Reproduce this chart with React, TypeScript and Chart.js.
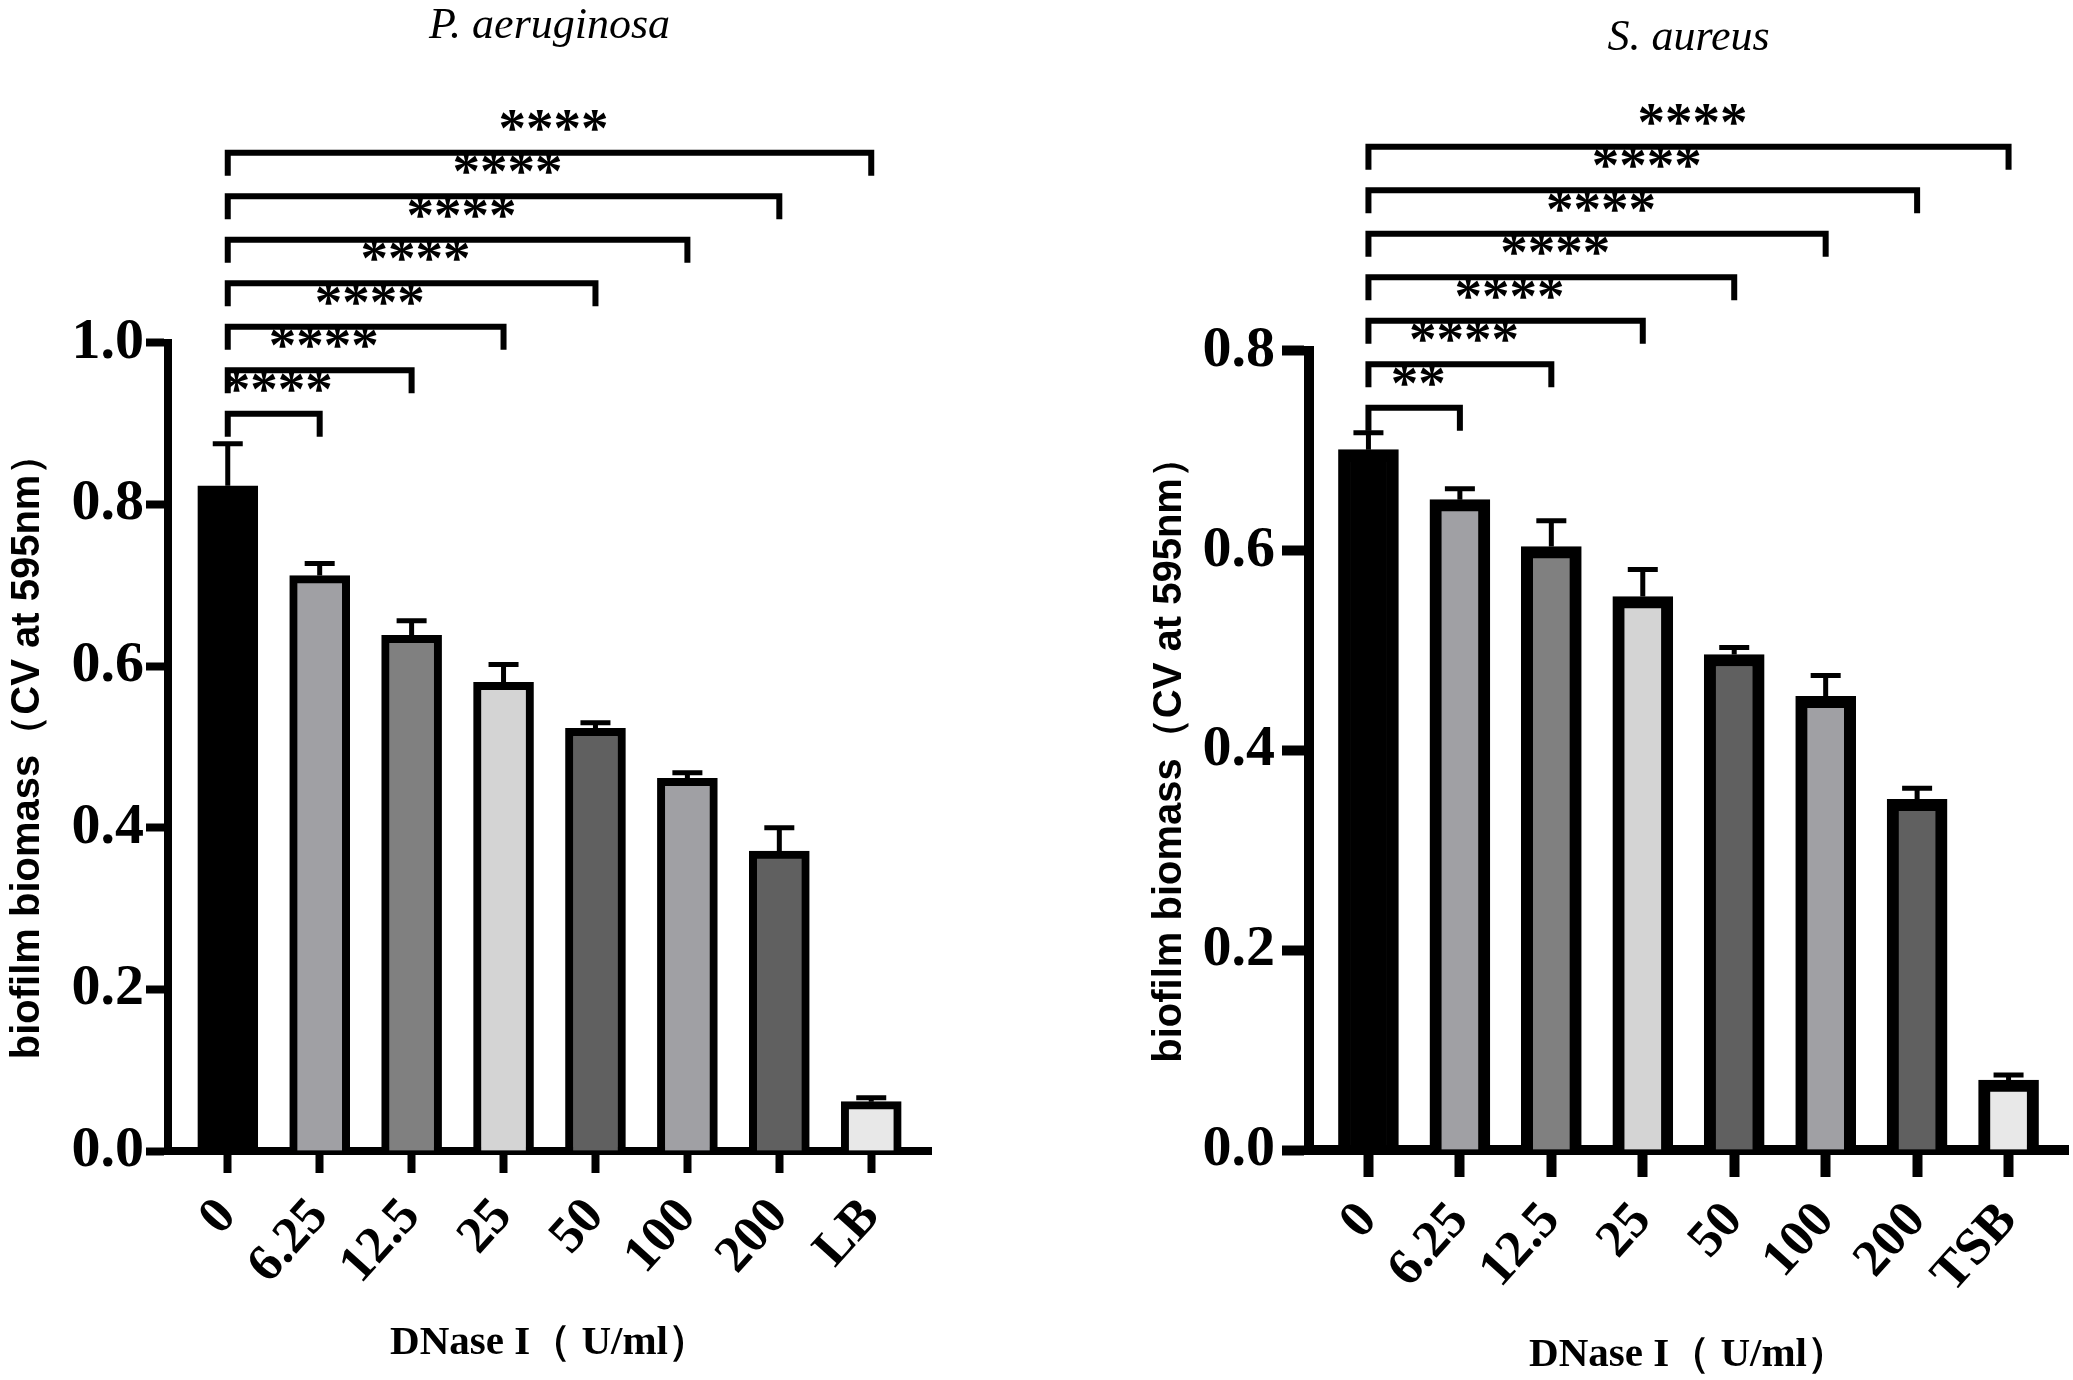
import { useEffect, useRef } from "react";
import { Chart, registerables } from "chart.js";

Chart.register(...registerables);

// P. aeruginosa (DNase I, U/ml)
const paCategories = ["0", "6.25", "12.5", "25", "50", "100", "200", "LB"];
const paMeans = [0.823, 0.712, 0.638, 0.58, 0.523, 0.461, 0.371, 0.061];
const paErrors = [0.052, 0.015, 0.018, 0.022, 0.007, 0.007, 0.029, 0.005];
const paSignificance = ["****", "****", "****", "****", "****", "****", "****"];

// S. aureus (DNase I, U/ml)
const saCategories = ["0", "6.25", "12.5", "25", "50", "100", "200", "TSB"];
const saMeans = [0.701, 0.651, 0.604, 0.554, 0.496, 0.454, 0.351, 0.07];
const saErrors = [0.017, 0.011, 0.026, 0.027, 0.007, 0.021, 0.011, 0.005];
const saSignificance = ["**", "****", "****", "****", "****", "****", "****"];

const barColors = ["#000000", "#a0a0a4", "#808080", "#d4d4d4", "#606060", "#a0a0a4", "#606060", "#e8e8e8"];

const SERIF = "'Liberation Serif', 'Times New Roman', serif";
const SANS = "'Liberation Sans', Arial, sans-serif";

interface PanelLook {
  yMax: number;
  padTop: number;
  titleGap: number;
  padRight: number;
  yWidth: number;
  xHeight: number;
  barBorder: number;
  axisWidth: number;
  tickLength: number;
  yTickPad: number;
  yTitlePad: number;
  xTitlePad: number;
  bracketGap: number;
}

interface PanelProps {
  title: string;
  categories: string[];
  means: number[];
  errors: number[];
  significance: string[];
  look: PanelLook;
}

function BiofilmPanel({ title, categories, means, errors, significance, look }: PanelProps) {
  const chartRef = useRef<HTMLCanvasElement>(null);
  const chartInstance = useRef<Chart | null>(null);

  useEffect(() => {
    if (!chartRef.current) return;
    const ctx = chartRef.current.getContext("2d");
    if (!ctx) return;

    if (chartInstance.current) {
      chartInstance.current.destroy();
    }

    // upward-only SD bars
    const errorBars = {
      id: "errorBars",
      afterDatasetsDraw(chart: any) {
        const { ctx: c, scales } = chart;
        c.save();
        c.strokeStyle = "#000";
        c.lineWidth = 5;
        means.forEach((m, i) => {
          const px = scales.x.getPixelForValue(i);
          const y0 = scales.y.getPixelForValue(m);
          const y1 = scales.y.getPixelForValue(m + errors[i]);
          c.beginPath();
          c.moveTo(px, y0);
          c.lineTo(px, y1);
          c.moveTo(px - 15, y1);
          c.lineTo(px + 15, y1);
          c.stroke();
        });
        c.restore();
      },
    };

    // comparison brackets vs. the 0 U/ml group
    const brackets = {
      id: "brackets",
      afterDraw(chart: any) {
        const { ctx: c, scales } = chart;
        const tallest = Math.max(...means.map((m, i) => m + errors[i]));
        const base = scales.y.getPixelForValue(tallest) - look.bracketGap;
        c.save();
        c.strokeStyle = "#000";
        c.fillStyle = "#000";
        c.lineWidth = 6;
        c.lineCap = "butt";
        c.lineJoin = "miter";
        c.font = `bold 55px ${SERIF}`;
        c.textAlign = "center";
        c.textBaseline = "alphabetic";
        significance.forEach((label, j) => {
          const x0 = scales.x.getPixelForValue(0);
          const x1 = scales.x.getPixelForValue(j + 1);
          const yy = base - j * 43.5;
          c.beginPath();
          c.moveTo(x0, yy + 23);
          c.lineTo(x0, yy);
          c.lineTo(x1, yy);
          c.lineTo(x1, yy + 23);
          c.stroke();
          c.fillText(label, (x0 + x1) / 2 + 4, yy - 7);
        });
        c.restore();
      },
    };

    chartInstance.current = new Chart(ctx, {
      type: "bar",
      data: {
        datasets: [{
          data: means.map((m, i) => ({ x: i, y: m })),
          backgroundColor: barColors,
          borderColor: "#000",
          borderWidth: look.barBorder,
          borderSkipped: "start",
          barThickness: 60,
        }],
      },
      options: {
        animation: false,
        responsive: true,
        maintainAspectRatio: false,
        layout: { padding: { left: 0, top: look.padTop, right: look.padRight, bottom: 0 } },
        plugins: {
          legend: { display: false },
          tooltip: { enabled: false },
          title: {
            display: true,
            text: title,
            fullSize: false,
            color: "#000",
            font: { family: SERIF, size: 44, style: "italic", weight: "normal" },
            padding: { top: 0, bottom: look.titleGap },
          },
        },
        scales: {
          x: {
            type: "linear",
            min: -0.65,
            max: categories.length - 0.35,
            offset: false,
            z: 1,
            afterBuildTicks: (scale: any) => {
              scale.ticks = categories.map((_, i) => ({ value: i }));
            },
            afterFit: (scale: any) => {
              scale.height = look.xHeight;
            },
            grid: {
              drawOnChartArea: false,
              drawTicks: true,
              offset: false,
              tickLength: look.tickLength,
              tickWidth: look.axisWidth,
              tickColor: "#000",
            },
            border: { display: true, width: look.axisWidth, color: "#000" },
            ticks: {
              autoSkip: false,
              minRotation: 48,
              maxRotation: 48,
              padding: 14,
              color: "#000",
              font: { family: SERIF, size: 52, weight: "bold" },
              callback: (v: any) => categories[Number(v)] ?? "",
            },
            title: {
              display: true,
              text: "DNase I（ U/ml）",
              color: "#000",
              font: { family: SERIF, size: 41, weight: "bold" },
              padding: { top: 0, bottom: look.xTitlePad },
            },
          },
          y: {
            min: 0,
            max: look.yMax,
            z: 1,
            afterFit: (scale: any) => {
              scale.width = look.yWidth;
            },
            grid: {
              drawOnChartArea: false,
              drawTicks: true,
              tickLength: look.tickLength,
              tickWidth: look.axisWidth,
              tickColor: "#000",
            },
            border: { display: true, width: look.axisWidth, color: "#000" },
            ticks: {
              stepSize: 0.2,
              padding: look.yTickPad,
              color: "#000",
              font: { family: SERIF, size: 58, weight: "bold" },
              callback: (v: any) => Number(v).toFixed(1),
            },
            title: {
              display: true,
              text: "biofilm biomass（CV at 595nm）",
              color: "#000",
              font: { family: SANS, size: 40, weight: "bold" },
              padding: { top: look.yTitlePad, bottom: 0 },
            },
          },
        },
      } as any,
      plugins: [errorBars, brackets],
    });

    return () => {
      if (chartInstance.current) {
        chartInstance.current.destroy();
        chartInstance.current = null;
      }
    };
  }, [title, categories, means, errors, significance, look]);

  return <canvas ref={chartRef} />;
}

const leftLook: PanelLook = {
  yMax: 1.0, padTop: 0, titleGap: 290, padRight: 105, yWidth: 168, xHeight: 229,
  barBorder: 8, axisWidth: 8, tickLength: 22, yTickPad: 2, yTitlePad: 4, xTitlePad: 12, bracketGap: 30,
};

const rightLook: PanelLook = {
  yMax: 0.8, padTop: 12, titleGap: 286, padRight: 5, yWidth: 273, xHeight: 230,
  barBorder: 12, axisWidth: 10, tickLength: 27, yTickPad: 7, yTitlePad: 110, xTitlePad: 0, bracketGap: 25,
};

export default function App() {
  useEffect(() => {
    document.body.style.margin = "0";
  }, []);

  return (
    <div style={{ position: "relative", width: 2073, height: 1380, overflow: "hidden", background: "#fff" }}>
      <div style={{ position: "absolute", left: 0, top: 0, width: 1036, height: 1380 }}>
        <BiofilmPanel
          title="P. aeruginosa"
          categories={paCategories}
          means={paMeans}
          errors={paErrors}
          significance={paSignificance}
          look={leftLook}
        />
      </div>
      <div style={{ position: "absolute", left: 1036, top: 0, width: 1037, height: 1380 }}>
        <BiofilmPanel
          title="S. aureus"
          categories={saCategories}
          means={saMeans}
          errors={saErrors}
          significance={saSignificance}
          look={rightLook}
        />
      </div>
    </div>
  );
}
